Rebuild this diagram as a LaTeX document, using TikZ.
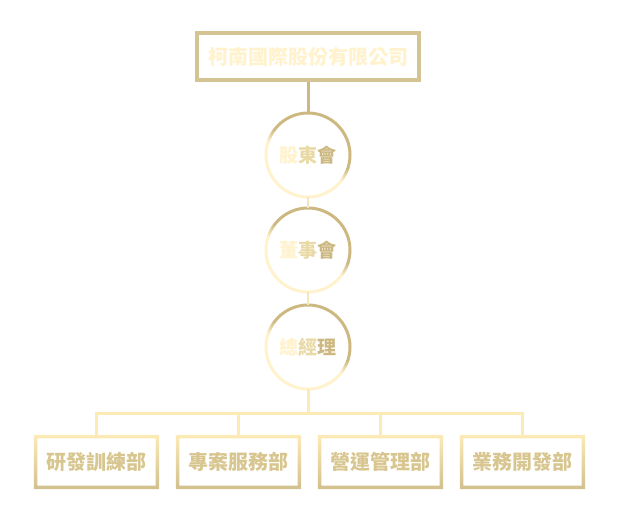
\documentclass[tikz,border=0pt]{standalone}
\usepackage{fontspec}
\usetikzlibrary{calc}
\newfontfamily\cjk{Noto Sans CJK TC}
\definecolor{cream}{HTML}{FFF2CC}
\definecolor{midgold}{HTML}{E9D9A6}
\definecolor{gold}{HTML}{CCB880}
\definecolor{deptgold}{HTML}{D8C690}
\definecolor{busline}{HTML}{FCEBB6}
\pgfdeclareverticalshading{ringshade}{100bp}{color(0bp)=(cream); color(46bp)=(cream);
  color(54bp)=(gold); color(100bp)=(gold)}
\begin{document}
\begin{tikzpicture}[x=1pt, y=-1pt,
  unit/.style={minimum width=121pt, minimum height=50pt, inner sep=0pt,
    font=\cjk\bfseries\fontsize{20}{20}\selectfont, text=deptgold},
  post/.style={circle, minimum size=84pt, inner sep=0pt,
    font=\cjk\bfseries\fontsize{19}{19}\selectfont},
  link/.style={line width=3pt}]

\useasboundingbox (0,0) rectangle (624,516);

% Company
      \node[unit, minimum width=222pt, minimum height=47pt, text=cream,
            draw=gold!85!white, line width=3.5pt]
            (company) at (308,56.5) {柯南國際股份有限公司};

% Offices
      \node[post] (holders) at (308,155)
            {{\color{cream}股}{\color{midgold}東}{\color{gold}會}};
      \node[post] (board) at (308,250)
            {{\color{cream}董}{\color{midgold}事}{\color{gold}會}};
      \node[post] (ceo) at (308,347)
            {{\color{cream}總}{\color{midgold}經}{\color{gold}理}};

      \foreach \n in {holders,board,ceo}
      \shade[even odd rule, shading=ringshade, shading angle=-28]
            (\n) circle (43.5pt) (\n) circle (40.5pt);

% Departments
      \node[unit] (rd)   at (96.5,462)  {研發訓練部};
      \node[unit] (proj) at (238.5,462) {專案服務部};
      \node[unit] (ops)  at (380.5,462) {營運管理部};
      \node[unit] (biz)  at (522.5,462) {業務開發部};

      \foreach \n in {rd,proj,ops,biz}
      \shade[even odd rule, top color=busline, bottom color=gold!90!white]
            ($(\n.north west)+(-2,-2)$) rectangle ($(\n.south east)+(2,2)$)
            ($(\n.north west)+(1.5,1.5)$) rectangle ($(\n.south east)+(-1.5,-1.5)$);

% Links
      \draw[link, gold] (company.south) -- (holders.north);
      \draw[line width=2pt, cream!80!gold] (holders.south) -- (board.north);
      \draw[line width=2pt, cream!80!gold] (board.south) -- (ceo.north);

      \coordinate (bus) at (308,413);
      \draw[link, busline] (ceo.south) -- (bus);
      \draw[link, busline] ($(rd.north |- bus)+(-1.5,0)$) -- ($(biz.north |- bus)+(1.5,0)$);
      \foreach \n in {rd,proj,ops,biz}
      \draw[link, busline] (\n.north |- bus) -- ($(\n.north)+(0,-2)$);

    \end{tikzpicture}
\end{document}
